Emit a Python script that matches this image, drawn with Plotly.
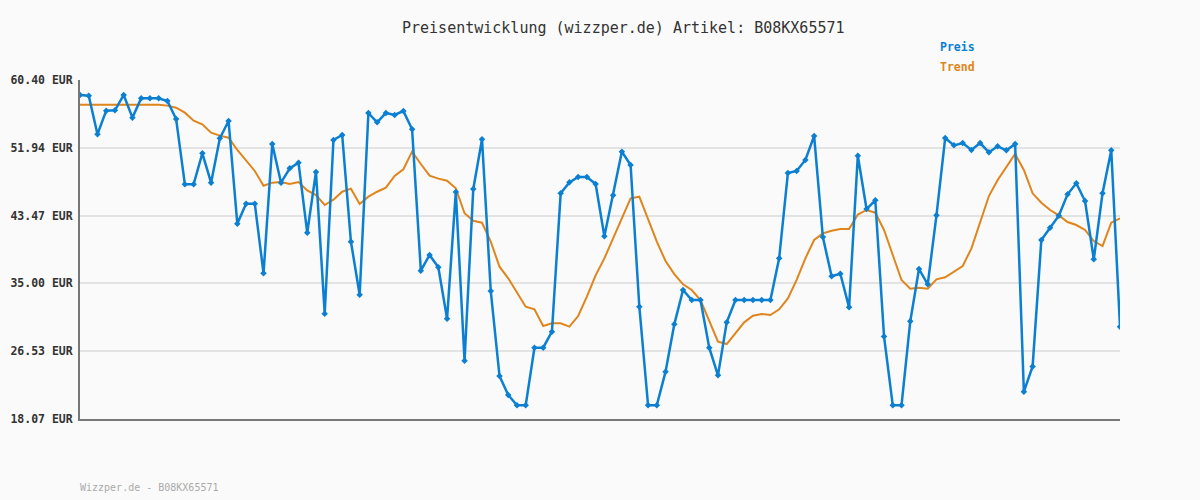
import plotly.graph_objects as go

preis = [58.53, 58.44, 53.62, 56.57, 56.61, 58.53, 55.70, 58.11, 58.11, 58.11,
         57.78, 55.53, 47.37, 47.37, 51.25, 47.58, 53.12, 55.28, 42.46, 44.96,
         44.96, 36.26, 52.41, 47.58, 49.37, 50.08, 41.33, 48.91, 31.22, 52.91,
         53.53, 40.21, 33.59, 56.28, 55.11, 56.28, 56.03, 56.53, 54.24, 36.59,
         38.55, 37.01, 30.60, 46.41, 25.35, 46.79, 52.99, 34.05, 23.44, 21.07,
         19.78, 19.78, 26.97, 26.97, 28.97, 46.25, 47.62, 48.29, 48.29, 47.41,
         40.88, 46.00, 51.45, 49.79, 32.09, 19.78, 19.78, 23.98, 29.89, 34.18,
         32.93, 32.93, 26.97, 23.52, 30.14, 32.93, 32.93, 32.93, 32.93, 32.93,
         38.13, 48.79, 49.04, 50.41, 53.41, 40.79, 35.89, 36.21, 32.01, 50.95,
         44.29, 45.38, 28.38, 19.78, 19.78, 30.27, 36.80, 34.89, 43.50, 53.16,
         52.24, 52.53, 51.66, 52.53, 51.37, 52.12, 51.62, 52.41, 21.48, 24.64,
         40.42, 41.96, 43.46, 46.13, 47.50, 45.29, 38.01, 46.25, 51.62, 29.60]

trend = [57.32, 57.32, 57.32, 57.32, 57.32, 57.32, 57.32, 57.32, 57.32, 57.32,
         57.20, 56.94, 56.32, 55.32, 54.87, 53.82, 53.45, 53.20, 51.66, 50.33,
         49.04, 47.20, 47.58, 47.66, 47.41, 47.66, 46.62, 46.04, 44.79, 45.45,
         46.45, 46.83, 44.92, 45.83, 46.45, 46.95, 48.41, 49.25, 51.45, 49.91,
         48.45, 48.08, 47.83, 46.88, 43.76, 42.83, 42.58, 40.21, 37.09, 35.64,
         33.84, 32.09, 31.76, 29.68, 30.02, 30.02, 29.60, 30.93, 33.34, 36.00,
         38.13, 40.63, 43.13, 45.63, 45.83, 43.13, 40.21, 37.80, 36.17, 34.89,
         34.18, 32.93, 30.43, 27.72, 27.43, 28.77, 30.14, 30.97, 31.18, 31.06,
         31.76, 33.13, 35.43, 38.13, 40.42, 41.25, 41.58, 41.79, 41.79, 43.60,
         44.17, 43.83, 41.67, 38.55, 35.43, 34.34, 34.47, 34.34, 35.51, 35.76,
         36.46, 37.17, 39.38, 42.71, 45.91, 47.91, 49.50, 51.16, 49.16, 46.25,
         45.08, 44.17, 43.50, 42.67, 42.29, 41.67, 40.29, 39.67, 42.58, 43.13]

y_ticks = [18.07, 26.53, 35.00, 43.47, 51.94, 60.40]
y_tick_labels = ["18.07 EUR", "26.53 EUR", "35.00 EUR", "43.47 EUR", "51.94 EUR", "60.40 EUR"]

x = list(range(len(preis)))

BLUE = "#0b7fd1"
ORANGE = "#e0851c"
MONO = "DejaVu Sans Mono, Liberation Mono, monospace"

fig = go.Figure()
fig.add_trace(go.Scatter(x=x, y=trend, mode="lines", name="Trend",
                         line=dict(color=ORANGE, width=2)))
fig.add_trace(go.Scatter(x=x, y=preis, mode="lines+markers", name="Preis",
                         line=dict(color=BLUE, width=2.5),
                         marker=dict(symbol="diamond", size=5, color=BLUE)))

fig.update_layout(
    width=1200, height=500,
    margin=dict(l=80, r=80, t=80, b=81, autoexpand=False),
    paper_bgcolor="#fafafa", plot_bgcolor="#fafafa",
    showlegend=False,
    xaxis=dict(range=[0, len(preis) - 1], showgrid=False, zeroline=False,
               showticklabels=False, showline=True, linecolor="#777777",
               linewidth=2, ticks="", automargin=False),
    yaxis=dict(range=[18.07, 60.40], tickvals=y_ticks, ticktext=y_tick_labels,
               showgrid=True, gridcolor="#e3e3e3", gridwidth=2, zeroline=False,
               showline=True, linecolor="#777777", linewidth=2, ticks="",
               ticklabelstandoff=3, automargin=False,
               tickfont=dict(family=MONO, size=11.5, color="#333333", weight="bold")),
    annotations=[
        dict(text="Preisentwicklung (wizzper.de) Artikel: B08KX65571",
             xref="paper", yref="paper", x=(623 - 80) / 1040, y=(419 - 28) / 339,
             xanchor="center", yanchor="middle", showarrow=False,
             font=dict(family=MONO, size=15, color="#333333")),
        dict(text="Preis", xref="paper", yref="paper",
             x=(938 - 80) / 1040, y=(419 - 47) / 339,
             xanchor="left", yanchor="middle", showarrow=False,
             font=dict(family=MONO, size=11.5, color=BLUE, weight="bold")),
        dict(text="Trend", xref="paper", yref="paper",
             x=(938 - 80) / 1040, y=(419 - 67) / 339,
             xanchor="left", yanchor="middle", showarrow=False,
             font=dict(family=MONO, size=11.5, color=ORANGE, weight="bold")),
        dict(text="Wizzper.de - B08KX65571", xref="paper", yref="paper",
             x=-2 / 1040, y=(419 - 487) / 339, xanchor="left", yanchor="middle",
             showarrow=False, font=dict(family=MONO, size=10, color="#aaaaaa")),
    ],
)

fig.write_html("out.html")
